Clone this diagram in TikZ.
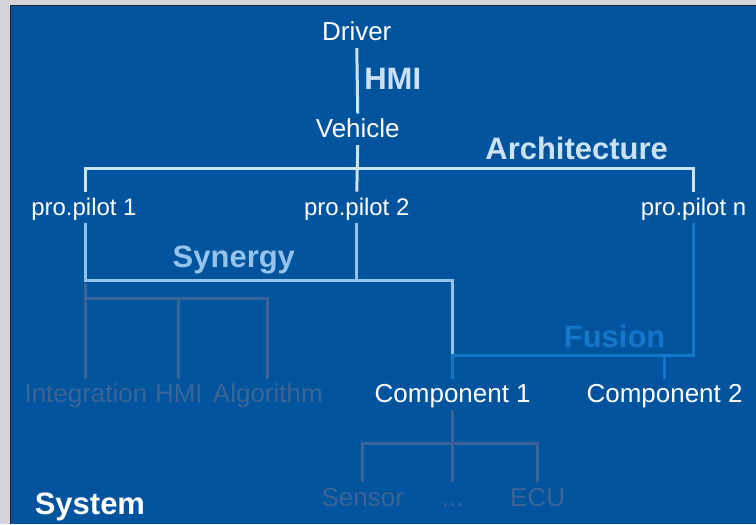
\documentclass[tikz,border=0pt]{standalone}
\usepackage{fontspec}
\setmainfont{Liberation Sans}
\usepackage{tikz}

\definecolor{bggray}{RGB}{212,214,220}
\definecolor{bgblue}{RGB}{0,84,158}
\definecolor{archcol}{RGB}{205,225,245}
\definecolor{syncol}{RGB}{150,195,235}
\definecolor{fuscol}{RGB}{20,120,200}
\definecolor{faintcol}{RGB}{60,100,150}

\tikzset{
  item/.style={anchor=base, text=white, inner xsep=0pt, inner ysep=7pt,
    text height=17pt, text depth=0pt, font=\fontsize{26}{30}\selectfont},
  pilot/.style={item, font=\fontsize{24}{28}\selectfont},
  faintitem/.style={item, text=faintcol},
  tag/.style={anchor=base, inner sep=0pt, font=\fontsize{31}{35}\selectfont\bfseries},
  archline/.style={archcol, line width=3pt},
  synline/.style={syncol, line width=3pt},
  fusline/.style={fuscol, line width=3pt},
  faintline/.style={faintcol, line width=3pt}
}

\begin{document}
\begin{tikzpicture}[x=1pt,y=1pt]
\fill[bggray] (0,0) rectangle (756,524);
\fill[bgblue] (11,0) rectangle (756,518);
\draw[black!85, line width=1pt] (10.5,0) -- (10.5,518.5) -- (756,518.5);

% top levels
\node[item] (driver) at (357,483) {Driver};
\node[item] (vehicle) at (358,386) {Vehicle};
\node[pilot] (pp1) at (84,308) {pro.pilot 1};
\node[pilot] (pp2) at (357,308) {pro.pilot 2};
\node[pilot] (ppn) at (694,308) {pro.pilot n};
\node[item] (comp1) at (453,121) {Component 1};
\node[item] (comp2) at (665,121) {Component 2};

% faded levels
\node[faintitem] (integ) at (86,121) {Integration};
\node[faintitem] (hmi) at (179,121) {HMI};
\node[faintitem] (algo) at (268,121) {Algorithm};
\node[faintitem] (sensor) at (363,17) {Sensor};
\node[faintitem] (dots) at (453,17) {...};
\node[faintitem] (ecu) at (538,17) {ECU};

% labels
\node[tag, text=archcol] (hmitag) at (393,434) {HMI};
\node[tag, text=archcol] (archtag) at (577,364) {Architecture};
\node[tag, text=syncol] (syntag) at (234,256) {Synergy};
\node[tag, text=fuscol] (fustag) at (615,176) {Fusion};
\node[tag, text=white] (systag) at (90,9) {System};

\coordinate (fus) at (453,168);
\coordinate (sysbar) at (0,225);

\draw[faintline] (integ.north) -- ++(0,96);
\draw[faintline] (integ.north |- sysbar) -| (algo.north);
\draw[faintline] (hmi.north) -- (hmi.north |- sysbar);
\draw[faintline] (comp1.south) -- (dots.north);
\draw[faintline] (sensor.north) -- ++(0,39) -| (ecu.north);

\draw[archline] (driver.south) -- (vehicle.north);
\draw[archline] (vehicle.south) -- (pp2.north);
\draw[archline] (pp1.north) ++(2,0) -- ++(0,23) -| (ppn.north);

\draw[synline] (pp1.south) ++(2,0) -- ++(0,-57) -| (fus);
\draw[synline] (pp2.south) -- ++(0,-57);

\draw[fusline] (ppn.south) |- (fus) -- (comp1.north);
\draw[fusline] (comp2.north) -- (comp2.north |- fus);
\end{tikzpicture}
\end{document}
